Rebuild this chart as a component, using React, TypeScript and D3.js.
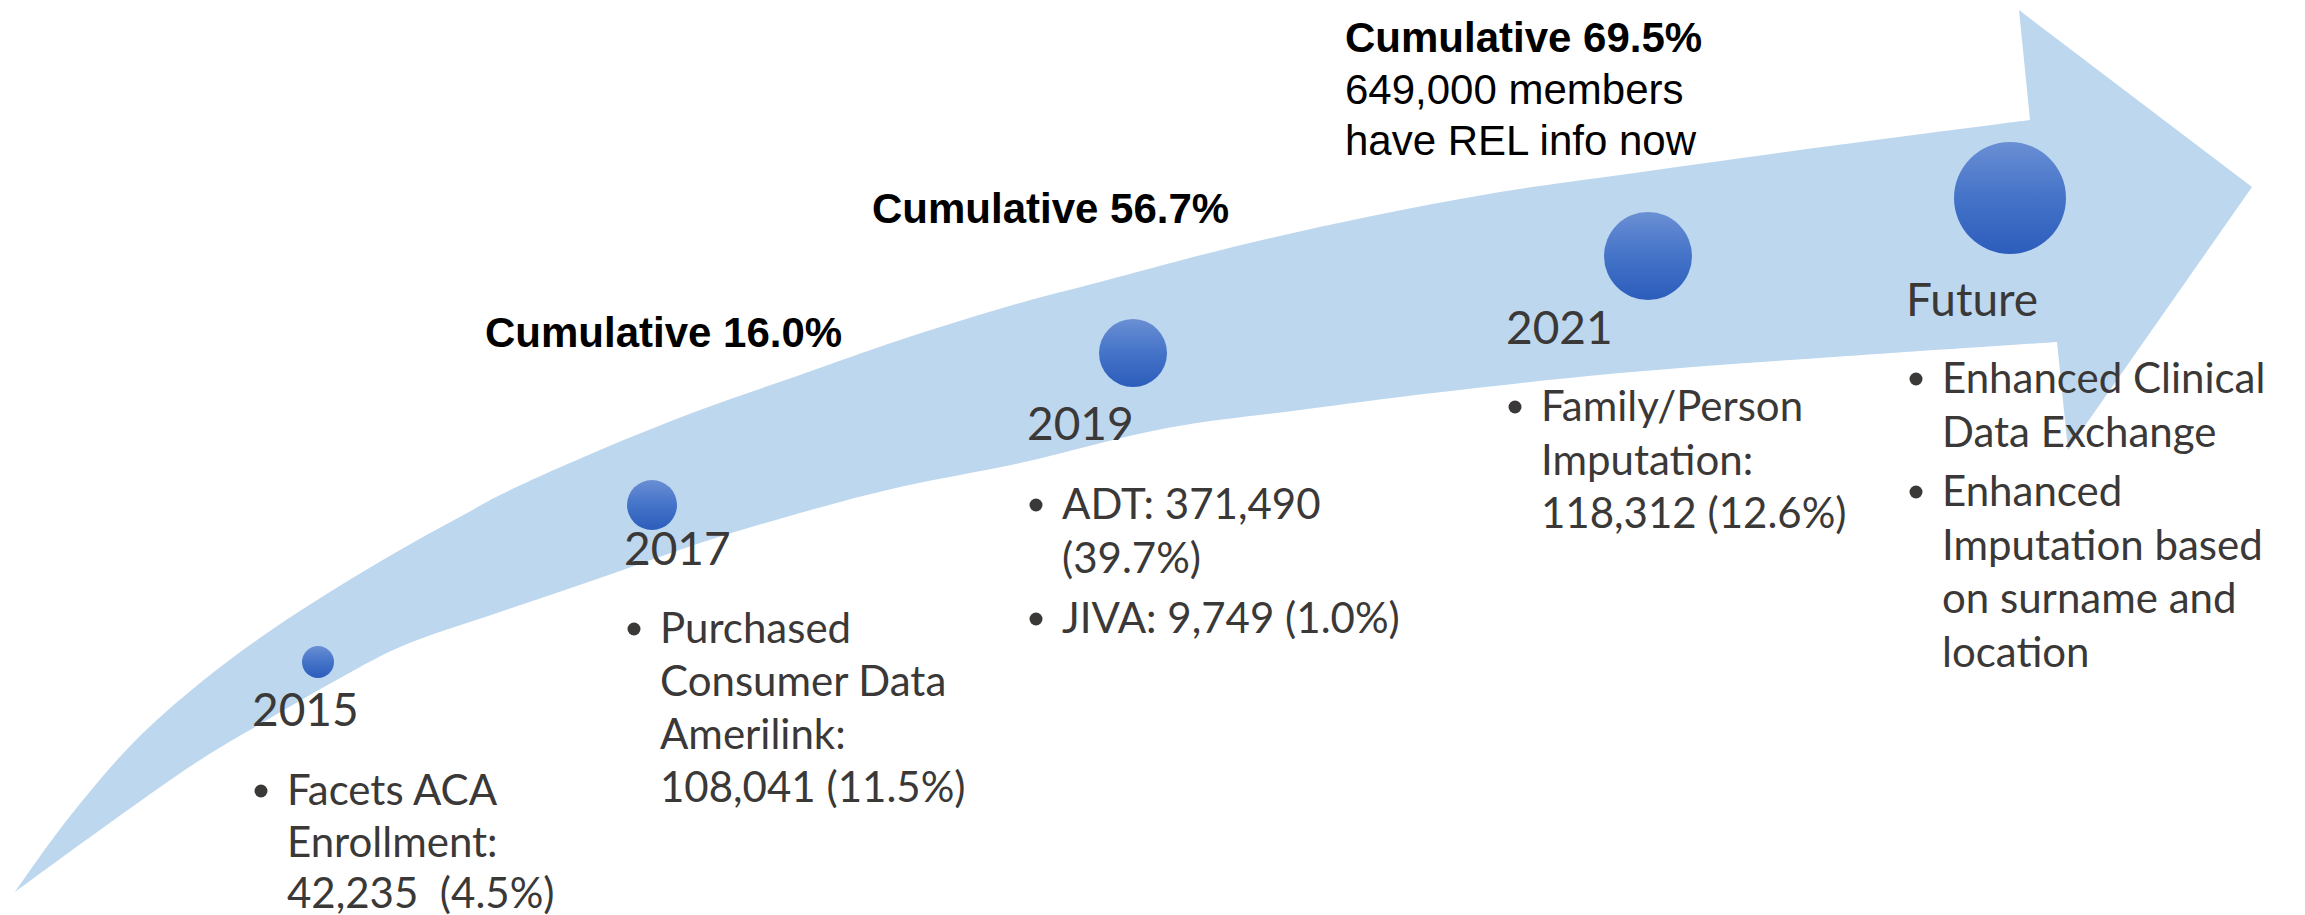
import React from "react";
import * as d3 from "d3";

// ---- content ----
const yearLabels = ["2015", "2017", "2019", "2021", "Future"];
const bulletGroups: string[][][] = [
  [["Facets ACA", "Enrollment:", "42,235  (4.5%)"]],
  [["Purchased", "Consumer Data", "Amerilink:", "108,041 (11.5%)"]],
  [["ADT: 371,490", "(39.7%)"], ["JIVA: 9,749 (1.0%)"]],
  [["Family/Person", "Imputation:", "118,312 (12.6%)"]],
  [["Enhanced Clinical", "Data Exchange"], ["Enhanced", "Imputation based", "on surname and", "location"]],
];
const cumulativeLabels = ["Cumulative 16.0%", "Cumulative 56.7%", "Cumulative 69.5%"];
const cumulativeNotes: string[][] = [[], [], ["649,000 members", "have REL info now"]];

// ---- layout (geometry of the illustration) ----
const circleX = [318, 652, 1133, 1648, 2010];
const circleY = [662, 505, 353, 256, 198];
const circleR = [16, 25, 34, 44, 56];
const yearX = [252, 624, 1027, 1506, 1906];
const yearY = [726, 565, 440, 344, 316];
const bulletX = [287, 660, 1062, 1541, 1942];
const bulletY = [805, 643, 519, 421, 393];
const lineH = [51.5, 53, 54, 53.5, 53.5];
const cumX = [485, 872, 1345];
const cumY = [347, 223, 52];

const upperEdge: [number, number][] = [
  [15, 892], [67, 820], [133, 743], [200, 683], [267, 633], [333, 590], [400, 550],
  [467, 513], [500, 495], [600, 450], [700, 410], [800, 375], [900, 340], [1020, 303],
  [1100, 282], [1233, 247], [1367, 217], [1500, 192], [1620, 175], [1800, 150], [2030, 120],
];
const headPoints: [number, number][] = [[2019, 10], [2252, 187], [2068, 450], [2057, 342]];
const lowerEdge: [number, number][] = [
  [15, 892], [100, 830], [200, 760], [267, 720], [333, 682], [400, 647], [500, 612],
  [600, 578], [700, 543], [800, 513], [900, 487], [1020, 463], [1167, 428], [1300, 410],
  [1433, 393], [1620, 373], [1833, 357], [2057, 342],
];

const BULLET_GAP = 6;
const BODY_FONT = "Lato, 'Open Sans', sans-serif";
const ARIAL = "'Liberation Sans', Arial, sans-serif";
const TEXT_GRAY = "#3b3838";

export default function App() {
  const W = 2305, H = 915;
  const line = d3.line<[number, number]>().curve(d3.curveCatmullRom.alpha(0.5));
  const up = line(upperEdge) as string;
  const head = headPoints.map((p) => `L${p[0]},${p[1]}`).join("");
  const low = (line(lowerEdge.slice().reverse()) as string).replace(/^M/, "L");
  const arrowPath = up + head + low + "Z";

  return (
    <svg width={W} height={H} style={{ position: "absolute", left: 0, top: 0, background: "#fff" }}>
      <defs>
        <linearGradient id="dotGrad" x1="0" y1="0" x2="0" y2="1">
          <stop offset="0" stopColor="#6a8fd4" />
          <stop offset="0.5" stopColor="#4473c8" />
          <stop offset="1" stopColor="#2c5dbb" />
        </linearGradient>
      </defs>
      <path d={arrowPath} fill="#bdd7ee" />

      {yearLabels.map((label, i) => {
        let y = bulletY[i];
        const items: React.ReactNode[] = [];
        bulletGroups[i].forEach((group, g) => {
          if (g > 0) y += BULLET_GAP;
          items.push(
            <circle key={`d${g}`} cx={bulletX[i] - 26} cy={y - 14} r={6.5} fill={TEXT_GRAY} />
          );
          group.forEach((t, k) => {
            items.push(
              <text key={`t${g}-${k}`} x={bulletX[i]} y={y} fontFamily={BODY_FONT} fontSize={42} fill={TEXT_GRAY} style={{ whiteSpace: "pre" }}>
                {t}
              </text>
            );
            y += lineH[i];
          });
        });
        return (
          <g key={label}>
            <circle cx={circleX[i]} cy={circleY[i]} r={circleR[i]} fill="url(#dotGrad)" />
            <text x={yearX[i]} y={yearY[i]} fontFamily={BODY_FONT} fontSize={46} fill={TEXT_GRAY}>
              {label}
            </text>
            {items}
          </g>
        );
      })}

      {cumulativeLabels.map((label, i) => (
        <g key={label}>
          <text x={cumX[i]} y={cumY[i]} fontFamily={ARIAL} fontWeight="bold" fontSize={42} fill="#000">
            {label}
          </text>
          {cumulativeNotes[i].map((t, k) => (
            <text key={t} x={cumX[i]} y={cumY[i] + 51.5 * (k + 1)} fontFamily={ARIAL} fontSize={42} fill="#000">
              {t}
            </text>
          ))}
        </g>
      ))}
    </svg>
  );
}
